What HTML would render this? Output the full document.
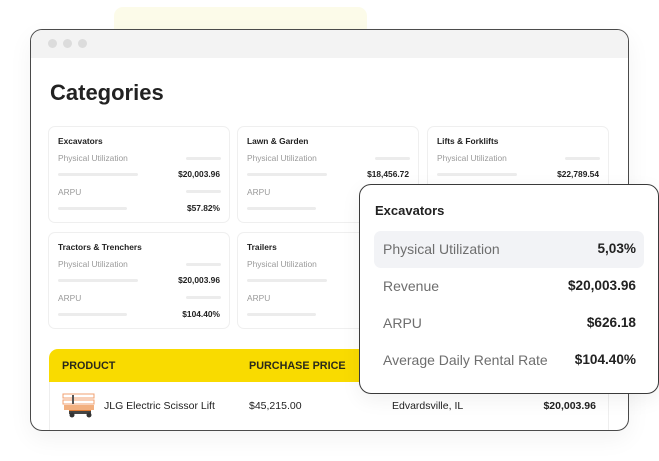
<!DOCTYPE html>
<html><head><meta charset="utf-8">
<style>
*{margin:0;padding:0;box-sizing:border-box}
body{width:659px;height:461px;background:#fff;position:relative;overflow:hidden;font-family:"Liberation Sans",Arial,sans-serif;color:#222}
.abs{position:absolute}
.blob{left:114px;top:7px;width:253px;height:30px;background:#fcfbe9;border-radius:9px}
.win{left:30px;top:29px;width:599px;height:402px;border:1px solid #4a4a4a;border-radius:12px;background:#fff;overflow:hidden;box-shadow:0 8px 24px rgba(0,0,0,0.05)}
.bar{left:0;top:0;width:100%;height:28px;background:#f3f3f3}
.dot{width:9px;height:9px;border-radius:50%;background:#dcdcdc;top:9px}
.title{left:19px;top:50px;font-size:22px;font-weight:bold;color:#222;line-height:26px}
.card{width:182px;height:97px;border:1px solid #efefef;border-radius:7px;background:#fff}
.ct{left:9px;top:7.5px;font-size:8.4px;font-weight:bold;line-height:12px;color:#222}
.cl{left:9px;font-size:8.4px;line-height:12px;color:#9a9a9a}
.sb{height:3px;border-radius:2px;background:#ececec}
.cv{right:9px;font-size:8.4px;font-weight:bold;line-height:12px;color:#222}
.th{left:18px;top:319px;width:560px;height:33px;background:#f9db00;border-radius:9px 9px 0 0}
.thx{font-size:10.8px;font-weight:bold;color:#2a2a1a;line-height:14px;top:329px}
.rowline{left:18px;top:352px;width:560px;height:60px;border-left:1px solid #eee;border-right:1px solid #eee}
.rt{font-size:10.5px;line-height:14px;top:369px;color:#222}
.pop{left:359px;top:184px;width:300px;height:210px;border:1px solid #3a3a3a;border-radius:12px;background:#fff;box-shadow:0 6px 20px rgba(0,0,0,0.06)}
.pt{left:15px;top:17px;font-size:13px;font-weight:bold;line-height:18px;color:#222}
.hl{left:14px;top:46px;width:270px;height:37px;background:#f2f3f6;border-radius:7px}
.pl{left:23px;font-size:14px;line-height:18px;color:#6e6e6e}
.pv{right:22px;font-size:13.6px;font-weight:bold;line-height:18px;color:#222}
</style></head><body>
<div class="abs blob"></div>
<div class="abs win">
  <div class="abs bar"></div>
  <div class="abs dot" style="left:17px"></div>
  <div class="abs dot" style="left:32px"></div>
  <div class="abs dot" style="left:47px"></div>
  <div class="abs title">Categories</div>

  <div class="abs card" style="left:17px;top:96px">
    <div class="abs ct">Excavators</div>
    <div class="abs cl" style="top:25px">Physical Utilization</div>
    <div class="abs sb" style="left:137px;top:30px;width:35px"></div>
    <div class="abs sb" style="left:9px;top:46px;width:80px"></div>
    <div class="abs cv" style="top:41px">$20,003.96</div>
    <div class="abs cl" style="top:59px">ARPU</div>
    <div class="abs sb" style="left:137px;top:63px;width:35px"></div>
    <div class="abs sb" style="left:9px;top:80px;width:69px"></div>
    <div class="abs cv" style="top:75px">$57.82%</div>
  </div>
  <div class="abs card" style="left:206px;top:96px">
    <div class="abs ct">Lawn &amp; Garden</div>
    <div class="abs cl" style="top:25px">Physical Utilization</div>
    <div class="abs sb" style="left:137px;top:30px;width:35px"></div>
    <div class="abs sb" style="left:9px;top:46px;width:80px"></div>
    <div class="abs cv" style="top:41px">$18,456.72</div>
    <div class="abs cl" style="top:59px">ARPU</div>
    <div class="abs sb" style="left:9px;top:80px;width:69px"></div>
  </div>
  <div class="abs card" style="left:396px;top:96px">
    <div class="abs ct">Lifts &amp; Forklifts</div>
    <div class="abs cl" style="top:25px">Physical Utilization</div>
    <div class="abs sb" style="left:137px;top:30px;width:35px"></div>
    <div class="abs sb" style="left:9px;top:46px;width:80px"></div>
    <div class="abs cv" style="top:41px">$22,789.54</div>
  </div>
  <div class="abs card" style="left:17px;top:202px">
    <div class="abs ct">Tractors &amp; Trenchers</div>
    <div class="abs cl" style="top:25px">Physical Utilization</div>
    <div class="abs sb" style="left:137px;top:30px;width:35px"></div>
    <div class="abs sb" style="left:9px;top:46px;width:80px"></div>
    <div class="abs cv" style="top:41px">$20,003.96</div>
    <div class="abs cl" style="top:59px">ARPU</div>
    <div class="abs sb" style="left:137px;top:63px;width:35px"></div>
    <div class="abs sb" style="left:9px;top:80px;width:69px"></div>
    <div class="abs cv" style="top:75px">$104.40%</div>
  </div>
  <div class="abs card" style="left:206px;top:202px">
    <div class="abs ct">Trailers</div>
    <div class="abs cl" style="top:25px">Physical Utilization</div>
    <div class="abs sb" style="left:9px;top:46px;width:80px"></div>
    <div class="abs cl" style="top:59px">ARPU</div>
    <div class="abs sb" style="left:9px;top:80px;width:69px"></div>
  </div>

  <div class="abs th"></div>
  <div class="abs thx" style="left:31px">PRODUCT</div>
  <div class="abs thx" style="left:218px">PURCHASE PRICE</div>
  <div class="abs rowline"></div>
  <svg class="abs" style="left:31px;top:363px" width="33" height="26" viewBox="0 0 33 26">
    <rect x="1" y="1" width="31" height="4" fill="none" stroke="#f0a070" stroke-width="1"/>
    <rect x="1" y="7" width="31" height="4" fill="none" stroke="#f0a070" stroke-width="1"/>
    <rect x="10" y="2" width="2" height="9" fill="#555"/>
    <rect x="2" y="12" width="30" height="5" fill="#f2b080"/>
    <rect x="7" y="17" width="22" height="4" fill="#e07a30"/>
    <rect x="7" y="18" width="22" height="3" fill="#444"/>
    <circle cx="10" cy="22" r="2.5" fill="#333"/>
    <circle cx="27" cy="22" r="2.5" fill="#333"/>
  </svg>
  <div class="abs rt" style="left:73px">JLG Electric Scissor Lift</div>
  <div class="abs rt" style="left:218px">$45,215.00</div>
  <div class="abs rt" style="left:361px">Edvardsville, IL</div>
  <div class="abs rt" style="left:480px;width:85px;text-align:right;font-weight:bold">$20,003.96</div>
</div>

<div class="abs pop">
  <div class="abs pt">Excavators</div>
  <div class="abs hl"></div>
  <div class="abs pl" style="top:55px">Physical Utilization</div>
  <div class="abs pv" style="top:55px">5,03%</div>
  <div class="abs pl" style="top:92px">Revenue</div>
  <div class="abs pv" style="top:92px">$20,003.96</div>
  <div class="abs pl" style="top:129px">ARPU</div>
  <div class="abs pv" style="top:129px">$626.18</div>
  <div class="abs pl" style="top:166px">Average Daily Rental Rate</div>
  <div class="abs pv" style="top:166px">$104.40%</div>
</div>
</body></html>
